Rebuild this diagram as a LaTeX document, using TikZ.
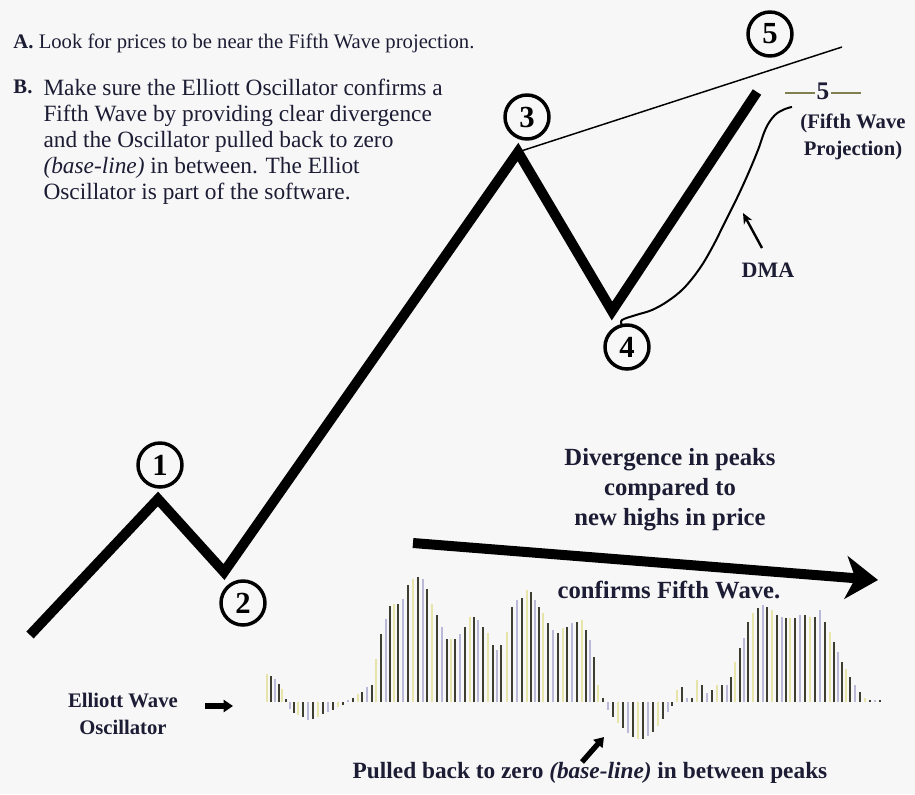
\documentclass[tikz,border=0pt]{standalone}
\usepackage{fontspec}
\setmainfont{Liberation Serif}
\usetikzlibrary{arrows.meta}

\definecolor{inkcol}{RGB}{28,28,52}
\definecolor{bgcol}{RGB}{247,247,247}
\definecolor{barA}{RGB}{62,62,48}
\definecolor{barB}{RGB}{230,228,168}
\definecolor{barC}{RGB}{186,186,216}
\definecolor{olivecol}{RGB}{128,128,78}

\tikzset{
  every picture/.style={line width=0.75pt},
  wave/.style={line width=7.5pt},
  wavenum/.style={circle, draw, line width=2.6pt, minimum size=33pt, inner sep=0pt,
    font=\fontsize{23}{23}\selectfont\bfseries},
  notetext/.style={inner sep=0.75pt, text=inkcol, font=\fontsize{15.5}{19.5}\selectfont, align=left},
  boldtext/.style={inner sep=0.75pt, text=inkcol, font=\fontsize{15.5}{20.5}\selectfont\bfseries, align=center},
  bigbold/.style={boldtext, font=\fontsize{18.5}{22.5}\selectfont\bfseries},
  oscbar/.style={line width=1.9pt},
}

\begin{document}
\begin{tikzpicture}[x=0.75pt,y=0.75pt,yscale=-1]
  \fill[bgcol] (0,0) rectangle (915,794);
  \useasboundingbox (0,0) rectangle (915,794);

  % wave points
  \coordinate (w0) at (30,635);
  \coordinate (w1) at (158,499);
  \coordinate (w2) at (224,572);
  \coordinate (w3) at (518,152);
  \coordinate (w4) at (612,311);
  \coordinate (w5) at (757,92);
  \coordinate (projend) at (842,47);

  % projection line from 3
  \draw[line width=1.1pt] (w3) -- (projend);
  % the five waves
  \draw[wave] (w0) -- (w1) -- (w2) -- (w3) -- (w4) -- (w5);

  % wave labels
  \node[wavenum] (c1) at (160,465) {1};
  \node[wavenum] (c2) at (243,603) {2};
  \node[wavenum] (c3) at (527,117) {3};
  \node[wavenum] (c4) at (627,347) {4};
  \node[wavenum] (c5) at (770,34) {5};

  % DMA line
  \draw[line width=1.5pt] plot[smooth, tension=0.6] coordinates {(622,325) (622,320) (636,315) (652,310) (668,301) (684,288) (700,268) (713,246) (725,222) (737,198) (748,174) (758,150) (766,128) (775,115) (785,109) (792,107)};
  \node[boldtext, font=\fontsize{16.5}{20}\selectfont\bfseries] (dma) at (768,270) {DMA};
  \coordinate (dmatail) at (762,248);
  \coordinate (dmatip) at (743,213);
  \draw[line width=1.8pt, -{Stealth[length=8pt,width=7pt]}] (dmatail) -- (dmatip);

  % projection target
  \node[boldtext, font=\fontsize{19}{20}\selectfont\bfseries] (five) at (823,91) {5};
  \draw[olivecol, line width=1.6pt] (five.west) ++(0,2) -- ++(-30,0);
  \draw[olivecol, line width=1.6pt] (five.east) ++(0,2) -- ++(30,0);
  \node[boldtext] (fifthproj) at (853,137) {(Fifth Wave\\Projection)};

  % notes
  \node[notetext, anchor=west] (noteA) at (12,43) {\textbf{A.} Look for prices to be near the Fifth Wave projection.};
  \node[notetext, anchor=north west] (labB) at (12,78) {\textbf{B.}};
  \node[notetext, anchor=north west, font=\fontsize{17.5}{19.5}\selectfont] (noteB) at (42,78) {Make sure the Elliott Oscillator confirms a\\
    Fifth Wave by providing clear divergence\\
    and the Oscillator pulled back to zero\\
    \textit{(base-line)} in between. The Elliot\\
    Oscillator is part of the software.};

  % divergence
  \node[bigbold] (diverg) at (670,490) {Divergence in peaks\\compared to\\new highs in price};
  \coordinate (divstart) at (413,543);
  \coordinate (divend) at (878,580);
  \draw[line width=7.5pt, -{Stealth[length=24pt,width=32pt,inset=7pt]}] (divstart) -- (divend);
  \node[bigbold] (confirm) at (669,590) {confirms Fifth Wave.};

  % oscillator bars
  \foreach \bx/\bh [count=\i] in {267/28, 271/26, 275/23, 279/18, 282/13, 286/3, 290/-7, 294/-11, 298/-13, 303/-15, 308/-18, 313/-17, 318/-15, 323/-12, 328/-10, 333/-8, 338/-5, 343/-3, 348/2, 353/4, 358/8, 362/10, 367/15, 372/17, 376/43, 381/68, 386/83, 390/96, 394/98, 398/98, 403/103, 408/117, 413/123, 418/125, 423/123, 427/113, 432/98, 437/87, 442/75, 447/63, 451/63, 455/63, 460/68, 465/75, 470/85, 474/85, 478/82, 483/75, 488/69, 493/57, 497/52, 501/57, 507/70, 512/95, 517/102, 522/104, 527/112, 531/110, 535/102, 539/95, 543/89, 548/79, 553/72, 558/69, 563/74, 567/75, 572/79, 577/80, 582/82, 586/72, 590/62, 594/45, 598/17, 603/4, 608/-8, 613/-15, 618/-21, 623/-26, 628/-31, 633/-35, 638/-37, 643/-37, 648/-34, 653/-30, 658/-24, 663/-17, 668/-10, 672/-4, 677/12, 682/15, 687/4, 692/4, 697/22, 702/17, 707/9, 712/12, 717/17, 722/17, 727/17, 731/25, 735/40, 740/54, 744/64, 748/80, 753/89, 758/94, 763/97, 767/95, 772/92, 777/87, 782/85, 786/84, 790/84, 795/84, 800/87, 805/87, 810/85, 815/85, 820/92, 825/80, 830/70, 834/60, 838/50, 842/40, 846/33, 850/25, 855/17, 860/10, 865/4, 870/2, 875/2, 880/2}{
    \pgfmathparse{{"barA","barB","barA","barC"}[mod(\i,4)]}
    \edef\bcol{\pgfmathresult}
    \draw[oscbar, draw=\bcol] (\bx,702) -- (\bx,{702-\bh});
  }

  % oscillator labels
  \node[boldtext] (elliott) at (123,714) {Elliott Wave\\Oscillator};
  \coordinate (elltail) at (205,706);
  \coordinate (elltip) at (233,706);
  \draw[line width=4.5pt, -{Triangle[length=7pt,width=9pt]}] (elltail) -- (elltip);
  \node[boldtext, font=\fontsize{17.5}{20}\selectfont\bfseries] (pulled) at (590,773) {Pulled back to zero \textit{(base-line)} in between peaks};
  \coordinate (pulltail) at (582,762);
  \coordinate (pulltip) at (604,737);
  \draw[line width=4pt, -{Triangle[length=7pt,width=9pt]}] (pulltail) -- (pulltip);
\end{tikzpicture}
\end{document}
